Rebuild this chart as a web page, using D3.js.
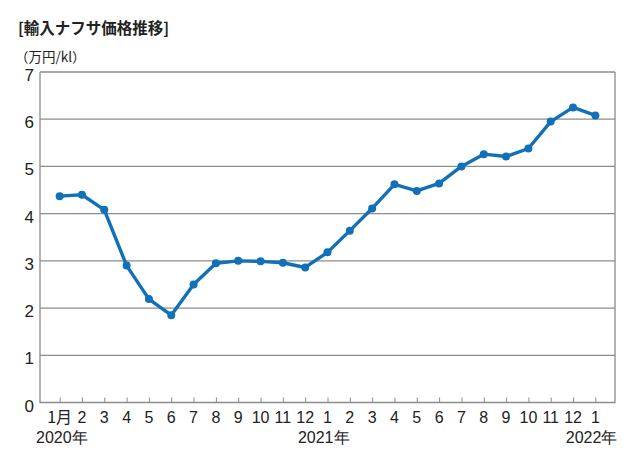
<!DOCTYPE html>
<html>
<head>
<meta charset="utf-8">
<script src="https://cdn.jsdelivr.net/npm/d3@7"></script>
<style>
  body { margin: 0; background: #fff; }
  svg text { font-family: "Liberation Sans Narrow", "Liberation Sans", Arial, sans-serif; fill: #222; }
  .jp { font-family: "Noto Sans CJK JP", sans-serif; }
</style>
</head>
<body>
<svg width="638" height="465"></svg>
<script>
const w = 638, h = 465;
const plotL = 40, plotR = 615, plotT = 72, plotB = 402.5;

const months = ["1月","2","3","4","5","6","7","8","9","10","11","12",
                "1","2","3","4","5","6","7","8","9","10","11","12","1"];
const prices = [4.37, 4.40, 4.08, 2.90, 2.19, 1.85, 2.50, 2.95, 3.00, 2.99, 2.96, 2.86,
                3.18, 3.64, 4.11, 4.62, 4.48, 4.64, 5.00, 5.26, 5.21, 5.38, 5.95, 6.25, 6.08];
const yTicks = [0, 1, 2, 3, 4, 5, 6, 7];
const years = [{label: "2020年", i: 0}, {label: "2021年", i: 12}, {label: "2022年", i: 24}];

const idx = d3.range(months.length);
const x = d3.scalePoint().domain(idx).range([plotL, plotR]).padding(0.88);
const y = d3.scaleLinear().domain([0, 7]).range([plotB, plotT]);

const svg = d3.select("svg");

// title
svg.append("text").attr("class", "jp")
    .attr("x", 18).attr("y", 34)
    .attr("font-size", 15.5).attr("font-weight", "bold")
    .text("[輸入ナフサ価格推移]");
svg.append("text").attr("class", "jp")
    .attr("x", 15).attr("y", 62)
    .attr("font-size", 13.5)
    .text("（万円/kl）");

// grid
svg.append("g").selectAll("line.grid")
    .data(yTicks.filter(d => d > 0))
    .join("line").attr("class", "grid")
    .attr("x1", plotL).attr("x2", plotR)
    .attr("y1", d => y(d)).attr("y2", d => y(d))
    .attr("stroke", "#8c8c8c").attr("stroke-width", 1.3);

// frame
svg.append("path")
    .attr("d", `M${plotL},${plotT}V${plotB}H${plotR}V${plotT}`)
    .attr("fill", "none").attr("stroke", "#8c8c8c").attr("stroke-width", 1.3);

// y labels
svg.append("g").selectAll("text")
    .data(yTicks)
    .join("text")
    .attr("x", 34).attr("y", d => y(d) + 9)
    .attr("text-anchor", "end")
    .attr("font-size", 17)
    .text(d => d);

// x axis ticks (pointing up)
const axisX = d3.axisBottom(x).tickSize(-5).tickFormat("");
svg.append("g")
    .attr("transform", `translate(0,${plotB})`)
    .call(axisX)
    .call(g => g.select(".domain").remove())
    .call(g => g.selectAll(".tick line").attr("stroke", "#8c8c8c").attr("stroke-width", 1));

svg.append("g").selectAll("text")
    .data(idx)
    .join("text")
    .attr("x", d => x(d)).attr("y", 423)
    .attr("text-anchor", "middle")
    .attr("font-size", 16)
    .attr("class", d => d === 0 ? "jp" : null)
    .text(d => months[d]);

// years
svg.append("g").selectAll("text")
    .data(years)
    .join("text")
    .attr("x", d => d.i === 0 ? 36 : x(d.i) + 22)
    .attr("y", 443)
    .attr("text-anchor", d => d.i === 0 ? "start" : "end")
    .attr("font-size", 16)
    .text(d => d.label);

// line
const line = d3.line().x(d => x(d)).y(d => y(prices[d]));
svg.append("path")
    .datum(idx)
    .attr("d", line)
    .attr("fill", "none")
    .attr("stroke", "#1170b8")
    .attr("stroke-width", 3.4)
    .attr("stroke-linejoin", "round");

svg.append("g").selectAll("circle")
    .data(idx)
    .join("circle")
    .attr("cx", d => x(d)).attr("cy", d => y(prices[d]))
    .attr("r", 4)
    .attr("fill", "#1170b8");
</script>
</body>
</html>
